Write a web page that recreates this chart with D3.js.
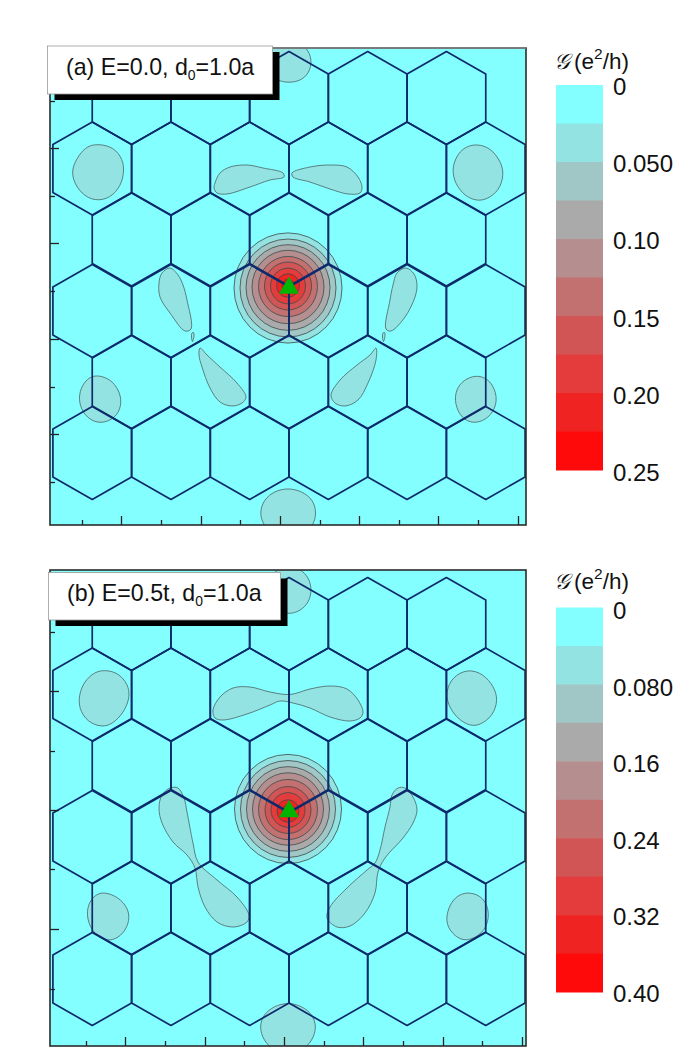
<!DOCTYPE html>
<html><head><meta charset="utf-8">
<script src="https://cdn.jsdelivr.net/npm/d3@7"></script>
<style>html,body{margin:0;padding:0;background:#fff}svg{display:block}text{font-family:"Liberation Sans",Arial,sans-serif;fill:#111}</style>
</head><body><div id="c"></div>
<script>
// ---- lattice (same in both panels): hexagon rows and column indices
const latticeRowY=[18.8,11.75,4.65,-2.5,-9.6,-16.7];
const latticeCols=[[-2,-1,0,1,2],[-2.5,-1.5,-.5,.5,1.5,2.5],[-2,-1,0,1,2],[-2.5,-1.5,-.5,.5,1.5,2.5],[-2,-1,0,1,2],[-2.5,-1.5,-.5,.5,1.5,2.5]];
const latticeColStep=7.87, hexOuter=4.65, hexShoulder=2.4;
// ---- tick positions
const aXMajor=[-16.8,-8.8,-.9,7,14.9,22.9], aXMinor=[-20.7,-12.8,-4.9,3.1,11,18.9];
const aYMajor=[13.8,4.3,-5.3,-14.8], aYMinor=[18.5,9,-.5,-10.1,-19.6];
const bXMajor=[-16.4,-8.4,-.5,7.4,15.4,23.3], bXMinor=[-20.3,-12.4,-4.5,3.5,11.4,19.3];
const bYMajor=[12.1,.2,-11.7], bYMinor=[18,6.1,-5.7,-17.7];
// ---- contour ring radii and centres, outer to inner
const aRingR=[5.4,4.8,4.2,3.6,2.95,2.35,1.75,1.15,.6];
const aRingCy=[-.2,-.2,-.15,-.1,-.05,0,0,.05,.05];
const bRingR=[5.35,4.75,4.15,3.55,2.95,2.3,1.7,1.1,.6];
const bRingCy=[.3,.3,.3,.3,.25,.2,.2,.1,.1];
// ---- level bands
const bandColors=["#84ffff","#93e3e3","#a0c6c6","#aaaaaa","#b58f8f","#c37070","#d25555","#e43c3c","#f02323","#ff0a0a"];
const aLegendValues=[0,.05,.10,.15,.20,.25], aLegendText=["0","0.050","0.10","0.15","0.20","0.25"];
const bLegendValues=[0,.08,.16,.24,.32,.40], bLegendText=["0","0.080","0.16","0.24","0.32","0.40"];
// ---- contour loops at the first level: round ones, then lobes
const aRound=[
[[-19.1,14.1],[-17.6,13.8],[-16.7,12.6],[-16.6,11.4],[-16.9,10.1],[-17.9,8.9],[-19.4,8.6],[-20.7,9.3],[-21.5,10.6],[-21.6,11.8],[-20.9,13.1],[-20.1,13.9]],
[[18.8,14.1],[20.1,13.7],[21.1,12.4],[21.4,11.1],[20.9,9.6],[19.8,8.8],[18.8,8.6],[17.6,9.1],[16.7,10.3],[16.4,11.6],[16.8,12.9],[17.6,13.8]],
[[-2.2,22.4],[-1.9,21.3],[-1.1,20.6],[0,20.4],[1.1,20.6],[1.9,21.3],[2.2,22.4],[1.9,23.5],[1.1,24.2],[0,24.4],[-1.1,24.2],[-1.9,23.5]],
[[-19.1,-9],[-17.9,-9.4],[-17.1,-10.4],[-16.8,-11.6],[-17.2,-12.9],[-18.4,-13.6],[-19.6,-13.5],[-20.6,-12.6],[-21,-11.2],[-20.6,-9.9],[-19.9,-9.2]],
[[-2.85,-22.7],[-2.4,-21.4],[-1.4,-20.6],[-.1,-20.3],[1.2,-20.6],[2.3,-21.4],[2.65,-22.7],[2.3,-24],[1.2,-24.8],[-.1,-25.1],[-1.4,-24.8],[-2.4,-24]],
[[18.9,-9],[20.1,-9.5],[20.8,-11.1],[20.4,-12.6],[19.3,-13.5],[18.1,-13.6],[17.1,-12.9],[16.6,-11.4],[16.9,-10.1],[17.8,-9.3]]
];
const aLobes=[
[[-7.4,10.3],[-6.9,11.3],[-5.9,11.9],[-4.2,12.1],[-2.6,11.8],[-.6,11.3],[-.5,10.9],[-1.9,10.6],[-3.9,9.9],[-6.2,9.2],[-7.2,9.3],[-7.5,9.8]],
[[.3,11.3],[2.1,11.9],[4.1,12.1],[5.8,11.9],[6.9,10.9],[7.3,9.9],[7.1,9.3],[5.9,9.2],[4.1,9.7],[2.1,10.4],[.4,10.9]],
[[-11.9,1.8],[-11.1,1.1],[-10.6,.1],[-10.2,-1.4],[-9.8,-4.3],[-10.4,-4.5],[-11.9,-2.7],[-12.9,-1.1],[-13,.3],[-12.7,1.3]],
[[-9.55,-4.65],[-9.5,-5],[-9.65,-5.55],[-9.75,-5.1],[-9.7,-4.7]],
[[-8.9,-6.2],[-8.2,-6.9],[-6.9,-8.1],[-5.2,-9.7],[-4.3,-11.1],[-4.7,-11.7],[-5.7,-12],[-6.9,-11.6],[-7.9,-10.2],[-8.7,-8.1],[-9,-6.9]],
[[11.7,1.8],[12.5,1.2],[12.8,.1],[12.6,-1.1],[11.6,-3.1],[10.2,-4.5],[9.7,-4.3],[10.1,-1.4],[10.4,.1],[10.8,1.3]],
[[9.55,-4.65],[9.6,-5],[9.45,-5.55],[9.35,-5.1],[9.4,-4.7]],
[[8.7,-6.2],[8.1,-6.9],[6.8,-7.9],[5.1,-9.4],[4.2,-10.9],[4.6,-11.7],[5.6,-12],[6.9,-11.4],[7.9,-9.7],[8.7,-7.4]]
];
const bRound=[
[[-18.4,14.1],[-17.1,13.8],[-16.2,12.7],[-16,11.5],[-16.6,10],[-17.7,8.9],[-18.7,8.6],[-20.1,9.1],[-20.9,10.4],[-20.9,11.7],[-20.4,13],[-19.4,13.9]],
[[17.9,14.2],[19.4,13.7],[20.4,12.5],[20.8,11.2],[20.3,9.7],[19.1,8.8],[18.1,8.7],[16.9,9.4],[16,10.7],[15.8,12],[16.4,13.4]],
[[-2.2,22.2],[-1.9,21],[-1.1,20.2],[0,19.85],[1.1,20.2],[1.9,21],[2.2,22.2],[1.9,23.4],[1.1,24.2],[0,24.55],[-1.1,24.2],[-1.9,23.4]],
[[-18.4,-8.1],[-17.1,-8.6],[-16.2,-9.6],[-16,-10.8],[-16.6,-12.1],[-17.7,-12.8],[-18.7,-12.6],[-19.7,-11.8],[-20.2,-10.3],[-19.9,-9],[-19.2,-8.3]],
[[18.1,-8.1],[19.4,-8.6],[20,-10.1],[19.6,-11.8],[18.1,-12.8],[16.9,-12.6],[15.9,-11.5],[15.8,-10.3],[16.3,-9],[17.1,-8.3]],
[[-2.85,-21.5],[-2.45,-20.3],[-1.45,-19.5],[-.1,-19.15],[1.25,-19.5],[2.25,-20.3],[2.65,-21.5],[2.25,-22.8],[1.25,-23.8],[-.1,-24.2],[-1.45,-23.8],[-2.45,-22.8]]
];
const bLobes=[
[[-7.6,10.2],[-6.9,11.5],[-5.6,12.4],[-3.9,12.5],[-1.9,12],[.1,11.75],[2.1,12.3],[4.1,12.6],[5.8,12.3],[6.9,11.2],[7.4,10],[7.1,9.4],[6.1,9.1],[4.1,9.5],[2.1,10.4],[.4,10.9],[-.9,11.1],[-1.9,10.7],[-4.2,9.8],[-6.6,9.2],[-7.4,9.4]],
[[-11.9,2.4],[-11.1,2.4],[-10.5,1.4],[-10.2,0],[-9.6,-3.1],[-9.1,-5],[-7.2,-6.8],[-5.2,-8.5],[-4,-10.3],[-4.2,-11],[-5.6,-11.5],[-7.2,-11],[-8.4,-9.5],[-9.1,-7.5],[-9.4,-5.6],[-10.2,-4.3],[-11.6,-3],[-12.7,-1.1],[-13,.4],[-12.7,1.7]],
[[10.9,2.4],[11.6,2.4],[12.4,1.5],[12.8,.2],[12.4,-1.1],[11.4,-2.6],[9.6,-4.6],[8.9,-6],[8.6,-8.1],[7.6,-10.1],[6.1,-11.4],[4.8,-11.5],[3.8,-10.6],[4.1,-9.5],[5.8,-7.6],[7.8,-5.8],[8.6,-5.1],[9.1,-3.8],[9.6,-1.5],[10.1,.5],[10.3,1.7]]
];

const svg=d3.select("#c").append("svg").attr("width",696).attr("height",1059);
const lineC="#0c2a6c", contour="#4a6464";

function panel(o){
  const x=d3.scaleLinear().domain([-23.9,23.7]).range([o.l,o.r]);
  const y=d3.scaleLinear().domain(o.yDomain).range([o.t,o.b]);
  const g=svg.append("g");
  const clipId="clip"+o.id;
  g.append("clipPath").attr("id",clipId).append("rect").attr("x",o.l).attr("y",o.t).attr("width",o.r-o.l).attr("height",o.b-o.t);
  g.append("rect").attr("x",o.l).attr("y",o.t).attr("width",o.r-o.l).attr("height",o.b-o.t).attr("fill",bandColors[0]);
  const body=g.append("g").attr("clip-path",`url(#${clipId})`);
  const lobe=d3.line().x(d=>x(d[0])).y(d=>y(d[1])).curve(d3.curveCatmullRomClosed.alpha(.5));
  const round=pts=>{ // basis spline; widen around the centroid to offset its inset
    const cx=d3.mean(pts,d=>d[0]), cy=d3.mean(pts,d=>d[1]);
    return d3.line().x(d=>x(cx+(d[0]-cx)*1.045)).y(d=>y(cy+(d[1]-cy)*1.045)).curve(d3.curveBasisClosed)(pts);
  };
  body.selectAll("path.round").data(o.round).join("path").attr("class","round").attr("d",round)
    .attr("fill",bandColors[1]).attr("stroke",contour).attr("stroke-width",.8);
  body.selectAll("path.lobe").data(o.lobes).join("path").attr("class","lobe").attr("d",lobe)
    .attr("fill",bandColors[1]).attr("stroke",contour).attr("stroke-width",.8);
  // concentric levels
  const rings=d3.range(o.ringR.length);
  const px=Math.abs(x(1)-x(0)), py=Math.abs(y(1)-y(0));
  body.selectAll("ellipse").data(rings).join("ellipse")
    .attr("cx",x(-.1)).attr("cy",i=>y(o.ringCy[i]))
    .attr("rx",i=>o.ringR[i]*px).attr("ry",i=>o.ringR[i]*1.02*py)
    .attr("fill",i=>bandColors[i+1]).attr("stroke","#3c4a4a").attr("stroke-width",.8);
  // lattice
  const hexes=latticeRowY.flatMap((ry,i)=>latticeCols[i].map(c=>[c*latticeColStep,ry]));
  const hexPath=([cx,cy])=>{
    const pts=[[cx,cy+hexOuter],[cx+latticeColStep/2,cy+hexShoulder],[cx+latticeColStep/2,cy-hexShoulder],[cx,cy-hexOuter],[cx-latticeColStep/2,cy-hexShoulder],[cx-latticeColStep/2,cy+hexShoulder]];
    return d3.line().x(d=>x(d[0])).y(d=>y(d[1]))(pts)+"Z";
  };
  body.selectAll("path.hex").data(hexes).join("path").attr("class","hex").attr("d",hexPath)
    .attr("fill","none").attr("stroke",lineC).attr("stroke-width",1.7).attr("stroke-linejoin","round");
  // site marker
  g.append("path").attr("d",d3.symbol(d3.symbolTriangle,172)()).attr("transform",`translate(${x(0)},${y(o.markerY)})`).attr("fill","#00b400");
  // axes (ticks only, inward)
  const ax=(gen,vals,size,tr)=>{
    const a=g.append("g").attr("transform",tr).call(gen.tickValues(vals).tickSize(size).tickSizeOuter(0).tickFormat(""));
    a.select(".domain").remove();
    a.selectAll("line").attr("stroke","#222").attr("stroke-width",1.3);
  };
  ax(d3.axisBottom(x),o.xMajor,-9,`translate(0,${o.b})`);
  ax(d3.axisBottom(x),o.xMinor,-5,`translate(0,${o.b})`);
  ax(d3.axisLeft(y),o.yMajor,-9,`translate(${o.l},0)`);
  ax(d3.axisLeft(y),o.yMinor,-5,`translate(${o.l},0)`);
  g.append("rect").attr("x",o.l).attr("y",o.t).attr("width",o.r-o.l).attr("height",o.b-o.t).attr("fill","none").attr("stroke","#2b2b2b").attr("stroke-width",1.6);
  if(o.topLine) g.append("line").attr("x1",o.l).attr("x2",o.r).attr("y1",o.t).attr("y2",o.t).attr("stroke",o.topLine).attr("stroke-width",1.6);
  // label box
  const B=o.box;
  g.append("rect").attr("x",B.x+7).attr("y",B.y+6).attr("width",B.w).attr("height",B.h).attr("fill","#000");
  g.append("rect").attr("x",B.x).attr("y",B.y).attr("width",B.w).attr("height",B.h).attr("fill","#fff").attr("stroke","#999").attr("stroke-width",.8);
  const t=g.append("text").attr("x",B.tx).attr("y",B.ty).attr("font-size",B.fs);
  t.append("tspan").text(o.label[0]);
  t.append("tspan").text("0").attr("dy",5).attr("font-size",B.fs*.6);
  t.append("tspan").text(o.label[1]).attr("dy",-5);
  // legend
  const by=d3.scaleBand().domain(d3.range(bandColors.length)).range([o.legT,o.legB]);
  g.selectAll("rect.band").data(bandColors).join("rect").attr("class","band")
    .attr("x",556).attr("width",47).attr("y",(d,i)=>by(i)).attr("height",by.bandwidth()+.5).attr("fill",d=>d);
  const ly=d3.scaleLinear().domain([0,o.legVals[o.legVals.length-1]]).range(o.legY);
  g.selectAll("text.lv").data(o.legVals).join("text").attr("class","lv")
    .attr("x",613).attr("y",d=>ly(d)).attr("font-size",24).text((d,i)=>o.legText[i]);
  g.append("text").attr("x",554).attr("y",o.titleY).attr("font-size",22).attr("font-style","italic")
    .style("font-family","'DejaVu Serif','Liberation Serif',serif").text("𝒢");
  const tt=g.append("text").attr("x",574).attr("y",o.titleY).attr("font-size",22.5);
  tt.append("tspan").text("(e");
  tt.append("tspan").text("2").attr("dy",-10).attr("font-size",15.5);
  tt.append("tspan").text("/h)").attr("dy",10);
}

panel({id:"a",l:50,r:526,t:48,b:525,yDomain:[23.8,-23.9],round:aRound,lobes:aLobes,ringR:aRingR,ringCy:aRingCy,markerY:-.2,topLine:"#8a8a8a",
  xMajor:aXMajor,xMinor:aXMinor,yMajor:aYMajor,yMinor:aYMinor,
  box:{x:47.5,y:46,w:225,h:48,tx:66,ty:75,fs:23.2},label:["(a) E=0.0, d","=1.0a"],
  legT:85,legB:470,legVals:aLegendValues,legText:aLegendText,legY:[95,481],titleY:69});
panel({id:"b",l:50,r:526,t:570,b:1046,yDomain:[24.2,-23.4],round:bRound,lobes:bLobes,ringR:bRingR,ringCy:bRingCy,markerY:.05,
  xMajor:bXMajor,xMinor:bXMinor,yMajor:bYMajor,yMinor:bYMinor,
  box:{x:48.5,y:572.5,w:232,h:47.5,tx:67,ty:601,fs:23.2},label:["(b) E=0.5t, d","=1.0a"],
  legT:607.5,legB:992,legVals:bLegendValues,legText:bLegendText,legY:[619,1002],titleY:589});
</script></body></html>
